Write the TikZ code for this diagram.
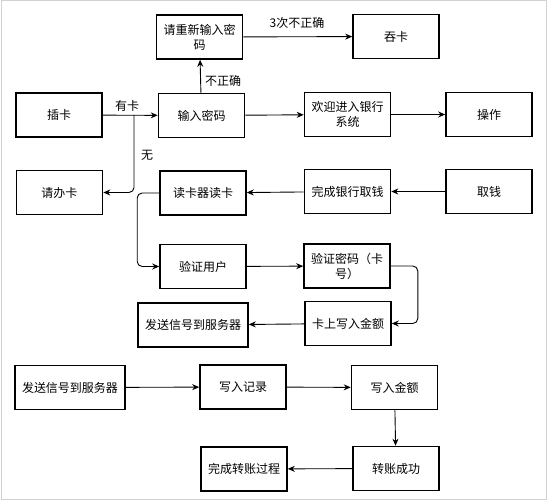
\documentclass[tikz,border=0pt]{standalone}
\usepackage{fontspec}
\setmainfont{Noto Sans CJK SC}
\usepackage{tikz}
\usetikzlibrary{arrows.meta}
\tikzset{
	box/.style={draw=black, line width=1.6pt, minimum width=86pt, minimum height=44pt, align=center, inner sep=2pt, font=\fontsize{12}{15}\selectfont},
	widebox/.style={box, minimum width=110pt},
	flow/.style={line width=0.9pt, -{Stealth[length=7pt,width=6pt]}},
	lbl/.style={font=\fontsize{12}{15}\selectfont, inner sep=1pt}
}

\begin{document}
\begin{tikzpicture}[x=1pt, y=-1pt]
			%%%%% FRAME %%%%%
			\useasboundingbox (0, 0) rectangle (547, 500);
			\draw[line width=1pt, color=black!18] (1, 1) rectangle (546, 499);
			
			%%%%% BOXES %%%%%
			\node[box] (retry) at (199.5, 37) {请重新输入密\\码};
			\node[box] (swallow) at (396, 36.5) {吞卡};
			
			\node[box] (insert) at (59, 115) {插卡};
			\node[box] (pwd) at (201.5, 115.5) {输入密码};
			\node[box] (welcome) at (347.5, 114.5) {欢迎进入银行\\系统};
			\node[box] (operate) at (489, 114.5) {操作};
			
			\node[box] (apply) at (59.5, 192.5) {请办卡};
			\node[box] (reader) at (203, 193) {读卡器读卡};
			\node[box] (finish) at (347.5, 191.5) {完成银行取钱};
			\node[box] (withdraw) at (489, 191.5) {取钱};
			
			\node[box] (checkuser) at (203, 266.5) {验证用户};
			\node[box] (checkpwd) at (347, 266) {验证密码（卡\\号）};
			
			\node[widebox] (sendtop) at (193, 325) {发送信号到服务器};
			\node[box] (writecard) at (348, 323.5) {卡上写入金额};
			
			\node[widebox] (sendlow) at (70, 387.5) {发送信号到服务器};
			\node[box] (record) at (243, 387) {写入记录};
			\node[box] (amount) at (394.5, 387.5) {写入金额};
			
			\node[box] (done) at (244, 469) {完成转账过程};
			\node[box] (success) at (396, 468.5) {转账成功};
			
			%%%%% ARROWS %%%%%
			\coordinate (fork) at (134, 115);
			\draw[flow] (insert) -- (pwd);
			\node[lbl] (hascard) at (127, 106) {有卡};
			\draw[flow, rounded corners=5pt] (fork) |- (apply);
			\node[lbl] (nocard) at (147, 155) {无};
			
			\draw[flow] (pwd) -- (retry);
			\node[lbl] (wrong) at (223, 81) {不正确};
			\draw[flow] (retry) -- (swallow);
			\node[lbl] (wrongthree) at (297, 23) {3次不正确};
			
			\draw[flow] (pwd) -- (welcome);
			\draw[flow] (welcome) -- (operate);
			
			\draw[flow] (withdraw) -- (finish);
			\draw[flow] (finish) -- (reader);
			\draw[flow, rounded corners=5pt] (reader.west) -- ++(-22, 0) |- (checkuser.west);
			
			\draw[flow] (checkuser) -- (checkpwd);
			\draw[flow, rounded corners=5pt] (checkpwd.east) -- ++(27, 0) |- (writecard.east);
			\draw[flow] (writecard) -- (sendtop);
			
			\draw[flow] (sendlow) -- (record);
			\draw[flow] (record) -- (amount);
			\draw[flow] (amount) -- (success);
			\draw[flow] (success) -- (done);
			%%%%% END %%%%%
\end{tikzpicture}
\end{document}
